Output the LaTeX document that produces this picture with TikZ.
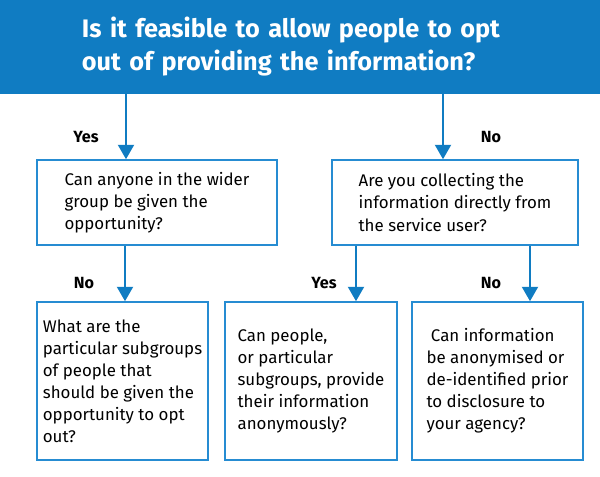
\documentclass[tikz,border=0pt]{standalone}
\usepackage{fontspec}
\setmainfont{Fira Sans}
\definecolor{privblue}{RGB}{16, 124, 194}
\definecolor{boxblue}{RGB}{38, 140, 210}
\usetikzlibrary{arrows.meta, positioning, calc}

\begin{document}
\begin{tikzpicture}[x=0.025cm, y=-0.025cm,
	qbox/.style={draw=boxblue, line width=1.1pt, align=left, minimum height=#1,
		font=\fontsize{12}{15.7}\selectfont},
	lbl/.style={font=\bfseries\fontsize{11.5}{14}\selectfont},
	arr/.style={draw=privblue, line width=1.4pt, -{Triangle[width=0.4cm, length=0.36cm]}}]
				\useasboundingbox (0,0) rectangle (600,476);
				
				\node (header) at (300,47) [fill=privblue, text=white, minimum width=15cm, minimum height=2.35cm,
					inner xsep=2.05cm, text width=10.9cm, align=left, font=\bfseries\fontsize{18}{23.5}\selectfont]
					{Is it feasible to allow people to opt\\out of providing the information?};
				
				\node (wider) at (157,202.5) [qbox=2.125cm, minimum width=6cm] {Can anyone in the wider\\group be given the\\opportunity?};
				\node (direct) at (455,202.5) [qbox=2.125cm, minimum width=6.15cm] {Are you collecting the\\information directly from\\the service user?};
				
				\node (subgroups) at (122.5,381) [qbox=3.95cm, minimum width=4.275cm] {What are the\\particular subgroups\\of people that\\should be given the\\opportunity to opt\\out?};
				\node (anonym) at (311,381) [qbox=3.95cm, minimum width=4.3cm] {Can people,\\or particular\\subgroups, provide\\their information\\anonymously?};
				\node (deident) at (497.5,381) [qbox=3.95cm, minimum width=4.275cm] {\ Can information\\be anonymised or\\de-identified prior\\to disclosure to\\your agency?};
				
				\coordinate (c1) at (126,0);
				\coordinate (c2) at (443,0);
				\coordinate (c3) at (125,0);
				\coordinate (c4) at (356,0);
				\coordinate (c5) at (530,0);
				
				\draw[arr] (header.south -| c1) -- (wider.north -| c1);
				\draw[arr] (header.south -| c2) -- (direct.north -| c2);
				\draw[arr] (wider.south -| c3) -- (subgroups.north -| c3);
				\draw[arr] (direct.south -| c4) -- (anonym.north -| c4);
				\draw[arr] (direct.south -| c5) -- (deident.north -| c5);
				
				\node[lbl] (yes1) at (86,137) {Yes};
				\node[lbl] (no1) at (491,137) {No};
				\node[lbl] (no2) at (84,283) {No};
				\node[lbl] (yes2) at (324,283) {Yes};
				\node[lbl] (no3) at (491,283) {No};
			\end{tikzpicture}
\end{document}
